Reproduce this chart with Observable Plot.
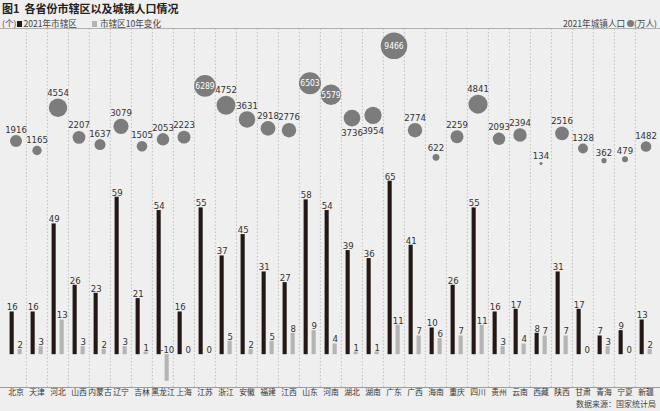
<!DOCTYPE html>
<html><head><meta charset="utf-8">
<script src="https://cdn.jsdelivr.net/npm/d3@7"></script>
<script src="https://cdn.jsdelivr.net/npm/@observablehq/plot@0.6"></script>
<style>
html,body{margin:0;padding:0;background:#efefef;}
#wrap{position:relative;width:660px;height:411px;overflow:hidden;background:#efefef;font-family:"Noto Sans CJK SC",sans-serif;color:#333;}
#wrap svg{position:absolute;left:0;top:0;}
.t{position:absolute;white-space:nowrap;line-height:1;}
.sq{display:inline-block;width:5px;height:6px;vertical-align:0px;}
</style></head><body>
<div id="wrap">
  <div id="plotA"></div>
  <div id="plotB"></div>
  <div class="t" style="left:2px;top:3px;font-size:11px;font-weight:bold;color:#222;">图1&nbsp;&nbsp;各省份市辖区以及城镇人口情况</div>
  <div class="t" style="left:2px;top:18.6px;font-size:8.6px;color:#444;">(个)<span class="sq" style="background:#231815;margin:0 1px 0 1px;"></span>2021年市辖区<span class="sq" style="background:#b4b4b4;margin:0 3px 0 15px;"></span>市辖区10年变化</div>
  <div class="t" style="right:3px;top:18.6px;font-size:8.6px;color:#444;">2021年城镇人口 <span style="display:inline-block;width:7px;height:7px;border-radius:50%;background:#7c7c7c;vertical-align:-0.5px;"></span>(万人)</div>
  <div style="position:absolute;left:0;top:27.5px;width:660px;height:1px;background:#b0b0b0;"></div>
  <div class="t" style="right:4px;top:400px;font-size:8px;color:#444;">数据来源：国家统计局</div>
</div>
<script>
const provinces = ["北京","天津","河北","山西","内蒙古","辽宁","吉林","黑龙江","上海","江苏","浙江","安徽","福建","江西","山东","河南","湖北","湖南","广东","广西","海南","重庆","四川","贵州","云南","西藏","陕西","甘肃","青海","宁夏","新疆"];
const districts2021 = [16,16,49,26,23,59,21,54,16,55,37,45,31,27,58,54,39,36,65,41,10,26,55,16,17,8,31,17,7,9,13];
const change10y = [2,3,13,3,2,3,1,-10,0,0,5,2,5,8,9,4,1,1,11,7,6,7,11,3,4,7,7,0,3,0,2];
const urbanPop = [1916,1165,4554,2207,1637,3079,1505,2053,2223,6289,4752,3631,2918,2776,6503,5579,3736,3954,9466,2774,622,2259,4841,2093,2394,134,2516,1328,362,479,1482];
const labelsBelow = ["湖北","湖南"];

const rows = provinces.map((p,i)=>({province:p, count:districts2021[i], change:change10y[i], pop:urbanPop[i]}));

const NUM = "'Liberation Sans Narrow','DejaVu Sans Condensed','Roboto Condensed',sans-serif";
const CJK = "'Noto Sans CJK SC',sans-serif";
const X_RANGE = [2.1, 659.3];
const BW = (X_RANGE[1]-X_RANGE[0])/provinces.length;
const Y_BAR_DOMAIN = [-12.3, 65];

const plotA = Plot.plot({
  width:660, height:411, marginTop:28.5, marginBottom:24, marginLeft:0, marginRight:0,
  style:{background:"transparent"},
  x:{type:"band", domain:provinces, range:X_RANGE, padding:0, axis:null},
  y:{domain:Y_BAR_DOMAIN, range:[387,180.7], axis:null},
  marks:[
    Plot.ruleX(provinces.slice(1), {x:d=>d, dx:-BW/2, stroke:"#b5b5b5", strokeWidth:0.8, strokeDasharray:"1.5,2"}),
    Plot.ruleY([Y_BAR_DOMAIN[0]], {stroke:"#9c9c9c", strokeWidth:1}),
    Plot.barY(rows, {x:"province", y:"count", fill:"#231815", insetLeft:4.6, insetRight:12.3}),
    Plot.barY(rows, {x:"province", y:"change", fill:"#b4b4b4", insetLeft:12.6, insetRight:4.3}),
    Plot.text(rows, {x:"province", y:"count", text:d=>String(d.count), dx:-3.8, dy:-1.5, lineAnchor:"bottom", fontSize:9.5, fontFamily:NUM, fill:"#333"}),
    Plot.text(rows, {x:"province", y:d=>Math.max(0,d.change), text:d=>String(d.change), dx:4.3, dy:-1.5, lineAnchor:"bottom", fontSize:9.5, fontFamily:NUM, fill:"#333"}),
    Plot.text(provinces, {x:d=>d, frameAnchor:"bottom", lineAnchor:"top", dy:1.5, fontSize:7.8, fontFamily:CJK, fill:"#333"})
  ]
});
document.getElementById("plotA").appendChild(plotA);

const POP_MAX = 9466, R_MAX = 13.3, Y_POP_RANGE = [164.7, 45.3];
const unitsPerPx = POP_MAX/(Y_POP_RANGE[0]-Y_POP_RANGE[1]);
const rpx = v => R_MAX*Math.sqrt(v/POP_MAX);
const inside = rows.filter(d=>d.pop>5000);
const below = rows.filter(d=>d.pop<=5000 && labelsBelow.includes(d.province));
const above = rows.filter(d=>d.pop<=5000 && !labelsBelow.includes(d.province));

const plotB = Plot.plot({
  width:660, height:411, marginTop:0, marginBottom:0, marginLeft:0, marginRight:0,
  style:{background:"transparent"},
  x:{type:"band", domain:provinces, range:X_RANGE, padding:0, axis:null},
  y:{domain:[0,POP_MAX], range:Y_POP_RANGE, axis:null},
  r:{domain:[0,POP_MAX], range:[0,R_MAX]},
  marks:[
    Plot.dot(rows, {x:"province", y:"pop", r:"pop", fill:"#7c7c7c"}),
    Plot.text(inside, {x:"province", y:"pop", text:d=>String(d.pop), fontSize:8.5, fontFamily:NUM, fill:"#fff"}),
    Plot.text(above, {x:"province", y:d=>d.pop+(rpx(d.pop)+2.5)*unitsPerPx, text:d=>String(d.pop), lineAnchor:"bottom", fontSize:9.5, fontFamily:NUM, fill:"#333"}),
    Plot.text(below, {x:"province", y:d=>d.pop-(rpx(d.pop)+3)*unitsPerPx, text:d=>String(d.pop), lineAnchor:"top", fontSize:9.5, fontFamily:NUM, fill:"#333"})
  ]
});
document.getElementById("plotB").appendChild(plotB);
</script>
</body></html>
